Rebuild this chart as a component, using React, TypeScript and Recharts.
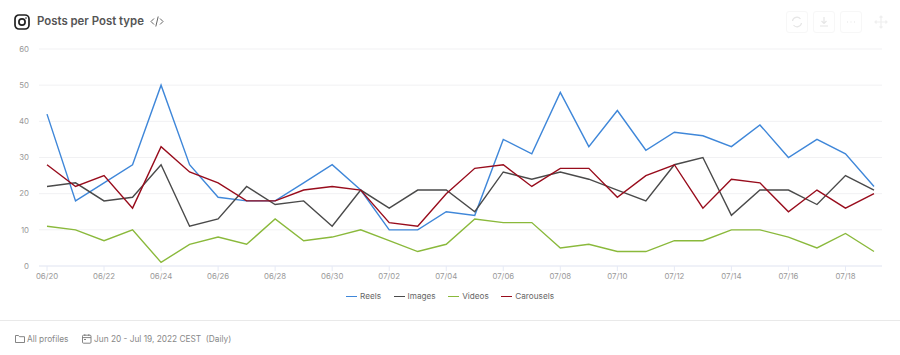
import { LineChart, Line, XAxis, YAxis, CartesianGrid, Legend } from "recharts";

const dates = [
  "06/20", "06/21", "06/22", "06/23", "06/24", "06/25", "06/26", "06/27", "06/28", "06/29",
  "06/30", "07/01", "07/02", "07/03", "07/04", "07/05", "07/06", "07/07", "07/08", "07/09",
  "07/10", "07/11", "07/12", "07/13", "07/14", "07/15", "07/16", "07/17", "07/18", "07/19",
];
const reels = [42, 18, 23, 28, 50, 28, 19, 18, 18, 23, 28, 21, 10, 10, 15, 14, 35, 31, 48, 33, 43, 32, 37, 36, 33, 39, 30, 35, 31, 22];
const images = [22, 23, 18, 19, 28, 11, 13, 22, 17, 18, 11, 21, 16, 21, 21, 15, 26, 24, 26, 24, 21, 18, 28, 30, 14, 21, 21, 17, 25, 21];
const videos = [11, 10, 7, 10, 1, 6, 8, 6, 13, 7, 8, 10, 7, 4, 6, 13, 12, 12, 5, 6, 4, 4, 7, 7, 10, 10, 8, 5, 9, 4];
const carousels = [28, 22, 25, 16, 33, 26, 23, 18, 18, 21, 22, 21, 12, 11, 20, 27, 28, 22, 27, 27, 19, 25, 28, 16, 24, 23, 15, 21, 16, 20];
const yTicks = [0, 10, 20, 30, 40, 50, 60];

const data = dates.map((date, i) => ({
  date,
  reels: reels[i],
  images: images[i],
  videos: videos[i],
  carousels: carousels[i],
}));

const FONT = "Inter, sans-serif";

function LegendRow({ payload }: any) {
  return (
    <div style={{ display: "flex", justifyContent: "center", gap: 12.5, fontFamily: FONT, fontSize: 8.2, lineHeight: "11px", color: "#666" }}>
      {payload.map((p: any) => (
        <div key={p.value} style={{ display: "flex", alignItems: "center", gap: 3 }}>
          <div style={{ width: 11, height: 1.5, background: p.color }} />
          <span>{p.value}</span>
        </div>
      ))}
    </div>
  );
}

function IconButton({ left, children }: { left: number; children: any }) {
  return (
    <div
      style={{
        position: "absolute",
        left,
        top: 11,
        width: 20,
        height: 20,
        border: "1px solid #f7f7f7",
        borderRadius: 3,
        color: "#e6e6e6",
      }}
    >
      <svg width="20" height="20" viewBox="0 0 20 20" fill="none" stroke="currentColor" strokeWidth="1.2">
        {children}
      </svg>
    </div>
  );
}

export default function App() {
  return (
    <div style={{ position: "absolute", left: 0, top: 0, width: 900, height: 355, background: "#fff", fontFamily: FONT, overflow: "hidden" }}>
      <svg style={{ position: "absolute", left: 14, top: 14 }} width="16" height="16" viewBox="0 0 16 16" fill="none" stroke="#222" strokeWidth="1.7">
        <rect x="1" y="1" width="14" height="14" rx="4" />
        <circle cx="8" cy="8" r="3.1" />
        <circle cx="12" cy="4" r="0.5" fill="#222" strokeWidth="0.5" />
      </svg>
      <div style={{ position: "absolute", left: 37, top: 13, fontSize: 11.4, fontWeight: 600, color: "#555", lineHeight: "16px" }}>
        Posts per Post type
      </div>
      <svg style={{ position: "absolute", left: 150, top: 15 }} width="14" height="13" viewBox="0 0 14 13" fill="none" stroke="#666" strokeWidth="1">
        <path d="M4 3.5 L1 6.5 L4 9.5 M10 3.5 L13 6.5 L10 9.5 M8.2 1.5 L5.8 11.5" />
      </svg>

      <IconButton left={786}>
        <path d="M5.5 9 A4.5 4.5 0 0 1 13.5 7 M14.5 11 A4.5 4.5 0 0 1 6.5 13" />
      </IconButton>
      <IconButton left={813}>
        <path d="M10 5 V11 M7.5 9 L10 11.5 L12.5 9 M6 14 H14" />
      </IconButton>
      <IconButton left={840}>
        <path d="M6 10 H7 M9.5 10 H10.5 M13 10 H14" />
      </IconButton>
      <svg style={{ position: "absolute", left: 874, top: 15 }} width="14" height="14" viewBox="0 0 14 14" fill="none" stroke="#efefef" strokeWidth="1.2">
        <path d="M7 1 V13 M1 7 H13 M5.5 2.5 L7 1 L8.5 2.5 M5.5 11.5 L7 13 L8.5 11.5 M2.5 5.5 L1 7 L2.5 8.5 M11.5 5.5 L13 7 L11.5 8.5" />
      </svg>

      <LineChart width={900} height={310} data={data} margin={{ top: 49, right: 18, bottom: 3, left: 0 }}>
        <CartesianGrid vertical={false} stroke="#f1f1f3" />
        <XAxis
          dataKey="date"
          interval={1}
          padding={{ left: 8, right: 8 }}
          stroke="#e6eaf6"
          tickSize={5}
          tickMargin={2}
          tick={{ fill: "#999", fontSize: 7.8, fontFamily: FONT }}
        />
        <YAxis
          width={39}
          domain={[0, 60]}
          ticks={yTicks}
          axisLine={false}
          tickLine={false}
          tickSize={0}
          tickMargin={10}
          tick={{ fill: "#999", fontSize: 7.8, fontFamily: FONT }}
        />
        <Legend verticalAlign="bottom" itemSorter={null} content={LegendRow} wrapperStyle={{ left: 0, width: 900, bottom: 8 }} />
        <Line dataKey="reels" name="Reels" stroke="#3f87d9" strokeWidth={1.4} dot={false} isAnimationActive={false} />
        <Line dataKey="images" name="Images" stroke="#4a4a4a" strokeWidth={1.4} dot={false} isAnimationActive={false} />
        <Line dataKey="videos" name="Videos" stroke="#8ab93b" strokeWidth={1.4} dot={false} isAnimationActive={false} />
        <Line dataKey="carousels" name="Carousels" stroke="#980c1c" strokeWidth={1.4} dot={false} isAnimationActive={false} />
      </LineChart>

      <div style={{ position: "absolute", left: 0, top: 320, width: 900, height: 1, background: "#e9e9e9" }} />
      <svg style={{ position: "absolute", left: 15, top: 334 }} width="10" height="10" viewBox="0 0 10 10" fill="none" stroke="#777" strokeWidth="0.9">
        <path d="M0.5 8.5 V1.5 H3.5 L4.5 2.7 H9.5 V8.5 Z" />
      </svg>
      <div style={{ position: "absolute", left: 27, top: 333, fontSize: 8.3, color: "#888", lineHeight: "12px" }}>All profiles</div>
      <svg style={{ position: "absolute", left: 82, top: 334 }} width="10" height="10" viewBox="0 0 10 10" fill="none" stroke="#777" strokeWidth="0.9">
        <rect x="0.5" y="1.2" width="8.5" height="8" rx="1" />
        <path d="M0.5 3.6 H9 M2.8 0.2 V2 M6.8 0.2 V2 M2 5.5 H4" />
      </svg>
      <div style={{ position: "absolute", left: 94, top: 333, fontSize: 8.3, color: "#888", lineHeight: "12px", whiteSpace: "pre" }}>
        Jun 20 - Jul 19, 2022 CEST  (Daily)
      </div>
    </div>
  );
}
